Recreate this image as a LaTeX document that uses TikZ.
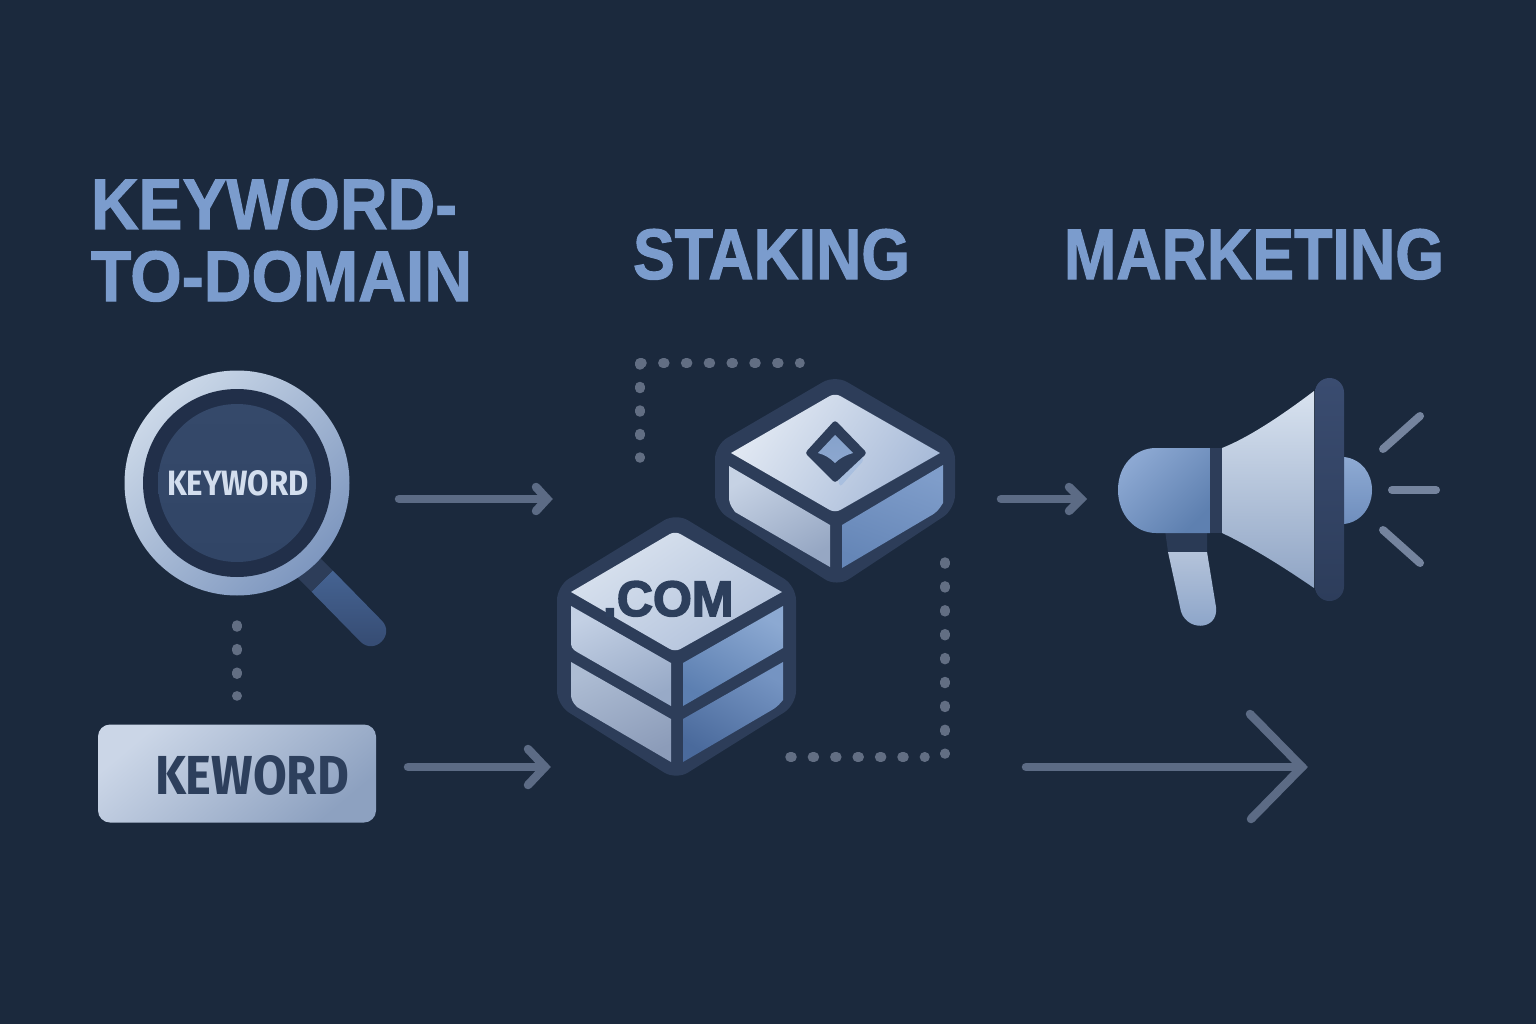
\documentclass[tikz,border=0pt]{standalone}
\usepackage{fontspec}
\usepackage{graphicx}
\setmainfont{Liberation Sans}
\newfontfamily\dinlike{Fira Sans}
\newfontfamily\heavy[FakeBold=1.5]{Liberation Sans Bold}
\newfontfamily\heavier[FakeBold=3]{Liberation Sans Bold}
\definecolor{bgc}{HTML}{1B293D}
\definecolor{titlec}{HTML}{7B9CCD}
\definecolor{linec}{HTML}{5C6B85}
\definecolor{dotc}{HTML}{626E83}
\definecolor{darkc}{HTML}{2D3D59}
\definecolor{inkc}{HTML}{2D3F5C}
\definecolor{rayc}{HTML}{75849E}
\definecolor{ringgap}{HTML}{212F49}
\definecolor{lenstxt}{HTML}{D3DEEE}
\definecolor{diashadow}{HTML}{A9BFDF}
\definecolor{neckc}{HTML}{2A3A55}
\tikzset{
  x=1pt,y=-1pt,
  grad/.code n args={3}{\definecolor{gradA}{HTML}{#1}\definecolor{gradB}{HTML}{#2}\tikzset{top color=gradA,bottom color=gradB,shading angle=#3}},
  conn/.style={draw=linec,line width=8.5pt,line cap=round,line join=miter},
  dotline/.style={draw=dotc,line width=9.5pt,line cap=round,dash pattern=on 2pt off #1},
  ray/.style={draw=rayc,line width=8pt,line cap=round},
  txt/.style={anchor=base west,inner sep=0pt,outer sep=0pt,font=\bfseries},
}
\newcommand{\fit}[3]{\resizebox{#1pt}{#2pt}{#3}}
\begin{document}
\begin{tikzpicture}
\useasboundingbox (0,0) rectangle (1536,1024);
\fill[bgc] (0,0) rectangle (1536,1024);

% titles
\node[txt,text=titlec] (t1) at (91,229) {\fit{366}{50}{\heavy KEYWORD-}};
\node[txt,text=titlec] (t2) at (91,301) {\fit{381}{50}{\heavy TO-DOMAIN}};
\node[txt,text=titlec] (t3) at (633,279) {\fit{277}{50}{\heavy STAKING}};
\node[txt,text=titlec] (t4) at (1064,279) {\fit{380}{50}{\heavy MARKETING}};

% magnifier
\path[grad={456392}{34496F}{0}] (332.6,570.4) -- (381.6,620.4) .. controls (395.7,634.5) and (374.5,655.7) .. (360.4,641.6) -- (311.4,591.6) -- cycle;
\fill[darkc] (332.6,570.4) -- (311.4,591.6) -- (294,574) -- (315,553) -- cycle;
\path[grad={CBD8E8}{7E97BF}{45}] (237,483) circle [radius=112.5pt];
\fill[ringgap] (237,483) circle [radius=94pt];
\path[grad={35496A}{314566}{0}] (237,483) circle [radius=79pt];
\node[txt,text=lenstxt] (lens) at (167,495.5) {\fit{142}{25}{\dinlike\bfseries KEYWORD}};

% dotted link from magnifier to field
\coordinate (d1a) at (237,625);
\coordinate (d1b) at (237,696);
\draw[dotline=21.6pt] (d1a) -- (d1b);

% keyword field
\node[draw=none,inner sep=0pt,minimum width=278pt,minimum height=98pt,rounded corners=12pt,grad={CBD6E7}{8DA1C0}{40}] (field) at (237,773.5) {};
\node[txt,text=inkc] (fieldtxt) at (155,794.5) {\fit{194}{39}{\dinlike\bfseries KEWORD}};

% arrows
\coordinate (a1s) at (399,499); \coordinate (a1e) at (547,499);
\coordinate (a1u) at (536,487); \coordinate (a1v) at (536,511);
\draw[conn] (a1s) -- (a1e); \draw[conn] (a1u) -- (a1e) -- (a1v);
\coordinate (a2s) at (408,767); \coordinate (a2e) at (545,767);
\coordinate (a2u) at (528,749); \coordinate (a2v) at (528,785);
\draw[conn] (a2s) -- (a2e); \draw[conn] (a2u) -- (a2e) -- (a2v);
\coordinate (a3s) at (1001,499); \coordinate (a3e) at (1081,499);
\coordinate (a3u) at (1069,487); \coordinate (a3v) at (1069,511);
\draw[conn] (a3s) -- (a3e); \draw[conn] (a3u) -- (a3e) -- (a3v);
\coordinate (a4s) at (1026,767); \coordinate (a4e) at (1302,767);
\coordinate (a4u) at (1250,714); \coordinate (a4v) at (1251,819);
\draw[conn] (a4s) -- (a4e); \draw[conn] (a4u) -- (a4e) -- (a4v);

% dotted routes
\coordinate (c1) at (640,363); \coordinate (c1h) at (800,363); \coordinate (c1v) at (640,458);
\draw[dotline=20.8pt] (c1) -- (c1h);
\draw[dotline=21.5pt] (c1) -- (c1v);
\coordinate (c2a) at (945,562); \coordinate (c2b) at (945,754);
\draw[dotline=21.9pt] (c2a) -- (c2b);
\coordinate (c3a) at (790,757); \coordinate (c3b) at (925,757);
\draw[dotline=20.4pt] (c3a) -- (c3b);

% upper block
\fill[darkc,rounded corners=14pt] (835,375) -- (955,445) -- (955,509) -- (837,587) -- (715,509) -- (715,445) -- cycle;
\path[grad={E2E9F3}{A7BAD8}{55}] (731,453) [rounded corners=6pt] -- (835,393) [sharp corners] -- (940,453) [rounded corners=6pt] -- (835,513) [sharp corners] -- cycle;
\path[grad={C6D2E4}{96A7C3}{30}] (729,466) -- (830,525) -- (830,567) -- (735,512) [rounded corners=5pt] -- (729,503) [sharp corners] -- cycle;
\path[grad={7F9DCA}{6586B7}{-20}] (842,525) -- (943,465) -- (943,503) [rounded corners=5pt] -- (937,512) [sharp corners] -- (842,568) -- cycle;
\fill[diashadow,rounded corners=3pt] (855,445) -- (864,460) -- (840,487) -- (836,470) -- cycle;
\fill[darkc,rounded corners=3pt] (835,420) -- (867,453) -- (835,483) -- (805,453) -- cycle;
\path[grad={86A2CB}{8CA7CF}{0}] (835,435) -- (853,453) .. controls (846,455) and (840,458) .. (835,463) .. controls (830,458) and (825,455) .. (818,453) -- cycle;

% lower block
\fill[darkc,rounded corners=14pt] (676,513) -- (796,586) -- (796,705) -- (676,780) -- (557,705) -- (557,586) -- cycle;
\path[grad={DAE3EF}{B1C1DB}{35}] (571,592) [rounded corners=6pt] -- (675,531) [sharp corners] -- (782,592) [rounded corners=6pt] -- (675,652) [sharp corners] -- cycle;
\path[grad={C3D0E4}{98AAC7}{25}] (571,606) -- (671,663) -- (671,706) -- (577,652) [rounded corners=4pt] -- (571,648) [sharp corners] -- cycle;
\path[grad={8CA9D2}{5C7FB1}{-30}] (683,663) -- (783,606) -- (783,648) -- (683,706) -- cycle;
\path[grad={ADBCD3}{8C9CB9}{25}] (571,662) -- (671,719) -- (671,762) -- (577,707) [rounded corners=5pt] -- (571,700) [sharp corners] -- cycle;
\path[grad={7594C2}{4A6A9C}{-30}] (683,719) -- (783,662) -- (783,700) [rounded corners=5pt] -- (777,707) [sharp corners] -- (683,762) -- cycle;
\node[txt,text=inkc,font=\heavier\fontsize{50}{55}\selectfont] (com) at (603,616) {.COM};

% megaphone
\fill[neckc] (1165,530) -- (1207,530) -- (1207,552) -- (1168,552) -- cycle;
\path[grad={B4C3DA}{8AA3C8}{0}] (1168,552) -- (1207,552) -- (1216,607) .. controls (1219,632) and (1183,632) .. (1180,607) -- cycle;
\path[grad={8EAAD3}{6F8EBD}{0}] (1344,457) .. controls (1362,459) and (1372,474) .. (1372,490) .. controls (1372,506) and (1362,522) .. (1344,524) -- cycle;
\path[grad={8CA8D2}{5E80B0}{45}] (1210,448) -- (1156,448) .. controls (1135,448) and (1118,465) .. (1118,490) .. controls (1118,515) and (1135,533) .. (1156,533) -- (1210,533) -- cycle;
\fill[darkc] (1210,448) rectangle (1222,533);
\path[grad={D8E2EF}{90A5C5}{0}] (1222,448) .. controls (1250,437) and (1285,413) .. (1314,391) -- (1314,588) .. controls (1285,568) and (1250,546) .. (1222,533) -- cycle;
\path[grad={3A4C70}{2D3D5B}{0},rounded corners=14.5pt] (1315,378) rectangle (1344,601);
\coordinate (r1a) at (1383,449); \coordinate (r1b) at (1420,416);
\coordinate (r2a) at (1392,490); \coordinate (r2b) at (1436,490);
\coordinate (r3a) at (1383,530); \coordinate (r3b) at (1420,563);
\draw[ray] (r1a) -- (r1b);
\draw[ray] (r2a) -- (r2b);
\draw[ray] (r3a) -- (r3b);
\end{tikzpicture}
\end{document}
